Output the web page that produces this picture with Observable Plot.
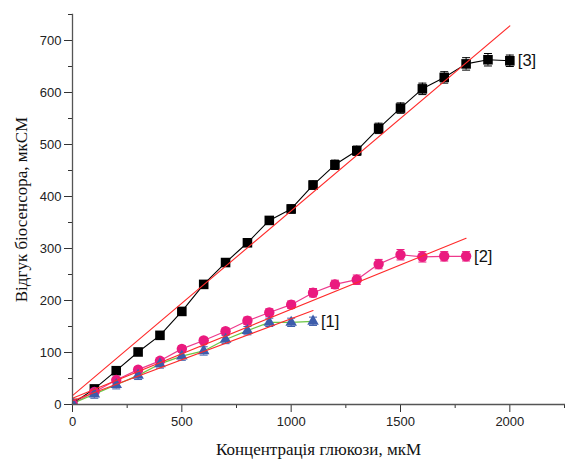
<!DOCTYPE html>
<html>
<head>
<meta charset="utf-8">
<script src="https://cdn.jsdelivr.net/npm/d3@7"></script>
<script src="https://cdn.jsdelivr.net/npm/@observablehq/plot@0.6"></script>
<style>
  html, body { margin: 0; padding: 0; background: #fff; }
  g[aria-label="x-axis label"] text, g[aria-label="y-axis label"] text {
    font-family: "Liberation Serif", serif; font-size: 17px; fill: #111;
  }
</style>
</head>
<body>
<div id="chart"></div>
<script>
// Series [3] (black squares)
const conc3 = [0,100,200,300,400,500,600,700,800,900,1000,1100,1200,1300,1400,1500,1600,1700,1800,1900,2000];
const resp3 = [2,30,65,101,133,179,231,273,311,354,376,422,461,488,531,570,607,629,655,663,661];
const err3  = [1,4,4,5,5,6,6,6,7,7,8,8,9,9,10,10,11,11,12,12,11];
// Series [2] (pink circles)
const conc2 = [0,100,200,300,400,500,600,700,800,900,1000,1100,1200,1300,1400,1500,1600,1700,1800];
const resp2 = [2,24,47,67,84,107,123,141,161,177,192,215,231,240,270,288,284,285,285];
const err2  = [1,4,4,5,5,6,6,6,7,7,7,8,8,9,9,10,10,9,9];
// Series [1] (blue triangles)
const conc1 = [0,100,200,300,400,500,600,700,800,900,1000,1100];
const resp1 = [2,20,38,56,78,93,103,125,142,158,158,160];
const err1  = [1,8,8,8,8,8,8,8,8,8,8,8];
// Linear fits (red lines): [1], [2], [3]
const fitNames = ["[1]","[2]","[3]"];
const fitIntercept = [7, 12, 17];
const fitSlope = [0.158, 0.171, 0.3555];
const fitXmax = [1100, 1800, 2000];
// Axis ticks
const xMajor = [0,500,1000,1500,2000];
const xMinor = [250,750,1250,1750,2250];
const yMajor = [0,100,200,300,400,500,600,700];
const yMinor = [50,150,250,350,450,550,650,750];

const colors = {black: "#000000", pink: "#ea1a7f", pinkLine: "#ee3a8c", blue: "#3d5dab", green: "#6cc644", red: "#ff2a2a"};

const mk = (c, r, e, name) => c.map((x, i) => ({x, y: r[i], e: e[i], name}));
const s3 = mk(conc3, resp3, err3, "[3]");
const s2 = mk(conc2, resp2, err2, "[2]");
const s1 = mk(conc1, resp1, err1, "[1]");

const fits = fitNames.flatMap((n, i) => [
  {name: n, x: 0, y: fitIntercept[i]},
  {name: n, x: fitXmax[i], y: fitIntercept[i] + fitSlope[i] * fitXmax[i]}
]);

const cap = {draw(ctx, size) { const r = 4; ctx.moveTo(-r, 0); ctx.lineTo(r, 0); }};

function errorMarks(data, color) {
  return [
    Plot.ruleX(data, {x: "x", y1: d => d.y - d.e, y2: d => d.y + d.e, stroke: color, strokeWidth: 1, clip: true}),
    Plot.dot(data, {x: "x", y: d => d.y + d.e, symbol: cap, stroke: color, strokeWidth: 1, r: 3, clip: true}),
    Plot.dot(data, {x: "x", y: d => d.y - d.e, symbol: cap, stroke: color, strokeWidth: 1, r: 3, clip: true})
  ];
}

const noLabel = () => "";
const plain = d => String(d);

const chart = Plot.plot({
  width: 565,
  height: 459,
  marginLeft: 72,
  marginRight: 1,
  marginTop: 14,
  marginBottom: 55,
  style: {fontFamily: "'Liberation Sans', Arial, sans-serif", fontSize: "13px", color: "#222", background: "#fff"},
  x: {domain: [0, 2250], range: [72, 564]},
  y: {domain: [0, 750]},
  marks: [
    Plot.axisX({ticks: xMinor, tickSize: 4, tickFormat: noLabel, label: null, stroke: "#333"}),
    Plot.axisX({ticks: xMajor, tickSize: 8, tickPadding: 4, tickFormat: plain, label: "Концентрація глюкози, мкМ", labelAnchor: "center", labelArrow: "none", labelOffset: 50, stroke: "#333"}),
    Plot.axisY({ticks: yMinor, tickSize: 4, tickFormat: noLabel, label: null, stroke: "#333"}),
    Plot.axisY({ticks: yMajor, tickSize: 8, tickPadding: 3, tickFormat: plain, label: "Відгук біосенсора, мкСМ", labelAnchor: "center", labelArrow: "none", labelOffset: 58, stroke: "#333"}),
    // connecting lines
    Plot.line(s3, {x: "x", y: "y", stroke: colors.black, strokeWidth: 1.1}),
    Plot.line(s2, {x: "x", y: "y", stroke: colors.pinkLine, strokeWidth: 1.2}),
    Plot.line(s1, {x: "x", y: "y", stroke: colors.green, strokeWidth: 1.2}),
    // error bars
    ...errorMarks(s3, colors.black),
    ...errorMarks(s2, colors.pink),
    ...errorMarks(s1, colors.blue),
    // markers
    Plot.dot(s3, {x: "x", y: "y", symbol: "square", r: 5.4, fill: colors.black, clip: true}),
    Plot.dot(s2, {x: "x", y: "y", symbol: "circle", r: 5.2, fill: colors.pink, clip: true}),
    Plot.dot(s1, {x: "x", y: "y", symbol: "triangle", r: 4.3, fill: colors.blue, clip: true}),
    // fits
    Plot.line(fits, {x: "x", y: "y", z: "name", stroke: colors.red, strokeWidth: 1.1}),
    Plot.frame({anchor: "left", stroke: "#555", strokeWidth: 1.3}),
    Plot.frame({anchor: "bottom", stroke: "#555", strokeWidth: 1.3}),
    // series labels
    Plot.text([s1.at(-1), s2.at(-1), s3.at(-1)], {x: "x", y: "y", text: "name", textAnchor: "start", dx: 8, fontSize: 16.5, fill: "#111"})
  ]
});
document.getElementById("chart").appendChild(chart);
</script>
</body>
</html>
